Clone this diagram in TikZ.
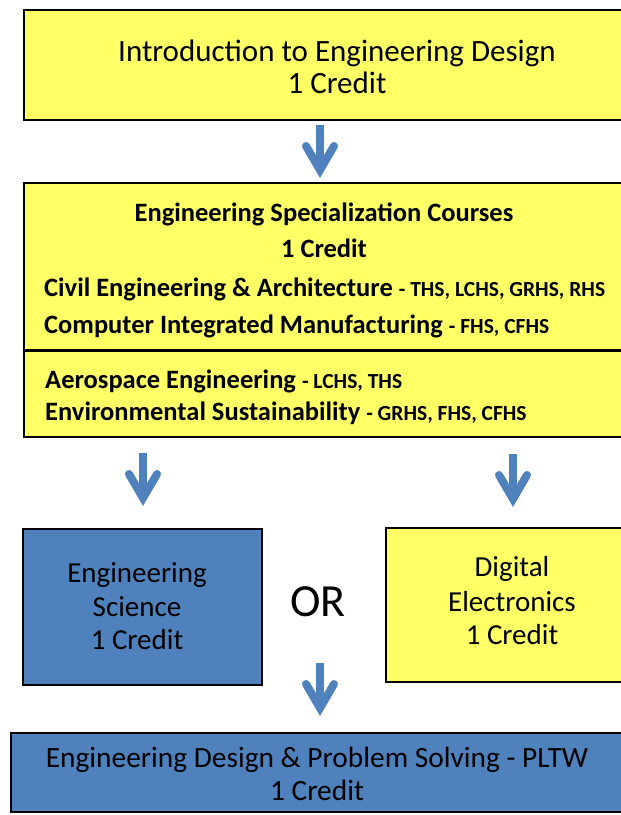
\documentclass[tikz,border=0pt]{standalone}
\usepackage{fontspec}
\setmainfont{Carlito}
\usetikzlibrary{calc}
\definecolor{boxyellow}{HTML}{FFFF66}
\definecolor{boxblue}{HTML}{4F81BD}
\definecolor{arrowblue}{HTML}{4F81BD}
\newcommand\bluedown[2]{%
  \draw[shaft] (#1) -- (#2);
  \draw[chev] ($(#1)+(-14,21)$) -- ($(#1)+(0,45)$) -- ($(#1)+(14,21)$);
}
\newcommand\sch{\fontsize{21.5}{25}\selectfont}
\begin{document}
\begin{tikzpicture}[x=1pt,y=-1pt,
 boxbase/.style={draw=black,line width=2pt,inner sep=0pt,outer sep=0pt,rectangle},
 ybox/.style={boxbase,fill=boxyellow},
 bbox/.style={boxbase,fill=boxblue},
 reg/.style={inner sep=0pt,anchor=base,font=\fontsize{29}{34}\selectfont},
 regl/.style={inner sep=0pt,anchor=base,font=\fontsize{31}{36}\selectfont},
 orsty/.style={inner sep=0pt,anchor=base,font=\fontsize{46}{50}\selectfont},
 bigb/.style={inner sep=0pt,font=\fontsize{26.5}{31}\selectfont\bfseries},
 shaft/.style={draw=arrowblue,line width=8pt},
 chev/.style={draw=arrowblue,line width=8pt,line cap=round,miter limit=10}
]
\useasboundingbox (0,0) rectangle (621,815);
\clip (0,0) rectangle (621,815);

% boxes
\node[ybox,minimum width=626pt,minimum height=110pt] (b1) at (337,65) {};
\node[ybox,minimum width=626pt,minimum height=167pt] (b2) at (337,266.5) {};
\node[ybox,minimum width=626pt,minimum height=86pt] (b3) at (337,394) {};
\node[bbox,minimum width=239pt,minimum height=156pt] (es) at (142.5,607) {};
\node[ybox,minimum width=264pt,minimum height=154pt] (de) at (518,605) {};
\node[bbox,minimum width=639pt,minimum height=79pt] (ed) at (330.5,772.5) {};

% box 1
\node[regl] (t11) at (337,61) {Introduction to Engineering Design};
\node[regl] (t12) at (337,93) {1 Credit};

% box 2
\node[bigb,anchor=base] (t21) at (324,221) {Engineering Specialization Courses};
\node[bigb,anchor=base] (t22) at (324,257) {1 Credit};
\node[bigb,anchor=base west] (t23) at (44,296) {Civil Engineering \& Architecture {\sch - THS, LCHS, GRHS, RHS}};
\node[bigb,anchor=base west] (t24) at (44,333) {Computer Integrated Manufacturing {\sch - FHS, CFHS}};

% box 3
\node[bigb,anchor=base west] (t31) at (45,388) {Aerospace Engineering {\sch - LCHS, THS}};
\node[bigb,anchor=base west] (t32) at (45,420) {Environmental Sustainability {\sch - GRHS, FHS, CFHS}};

% engineering science
\node[reg] (t41) at (137,582) {Engineering};
\node[reg] (t42) at (137,616) {Science};
\node[reg] (t43) at (137,649) {1 Credit};

% OR
\node[orsty] (or) at (318,616) {OR};

% digital electronics
\node[reg] (t51) at (512,576) {Digital};
\node[reg] (t52) at (512,611) {Electronics};
\node[reg] (t53) at (512,644) {1 Credit};

% bottom
\node[reg,font=\fontsize{29.4}{34}\selectfont] (t61) at (317,767) {Engineering Design \& Problem Solving - PLTW};
\node[reg,font=\fontsize{29.4}{34}\selectfont] (t62) at (317,800) {1 Credit};

% arrows
\coordinate (a1) at (320,125); \coordinate (a1e) at (320,169);
\coordinate (a2) at (143,453); \coordinate (a2e) at (143,497);
\coordinate (a3) at (513,454); \coordinate (a3e) at (513,498);
\coordinate (a4) at (320,663); \coordinate (a4e) at (320,707);
\bluedown{a1}{a1e}
\bluedown{a2}{a2e}
\bluedown{a3}{a3e}
\bluedown{a4}{a4e}
\end{tikzpicture}
\end{document}
